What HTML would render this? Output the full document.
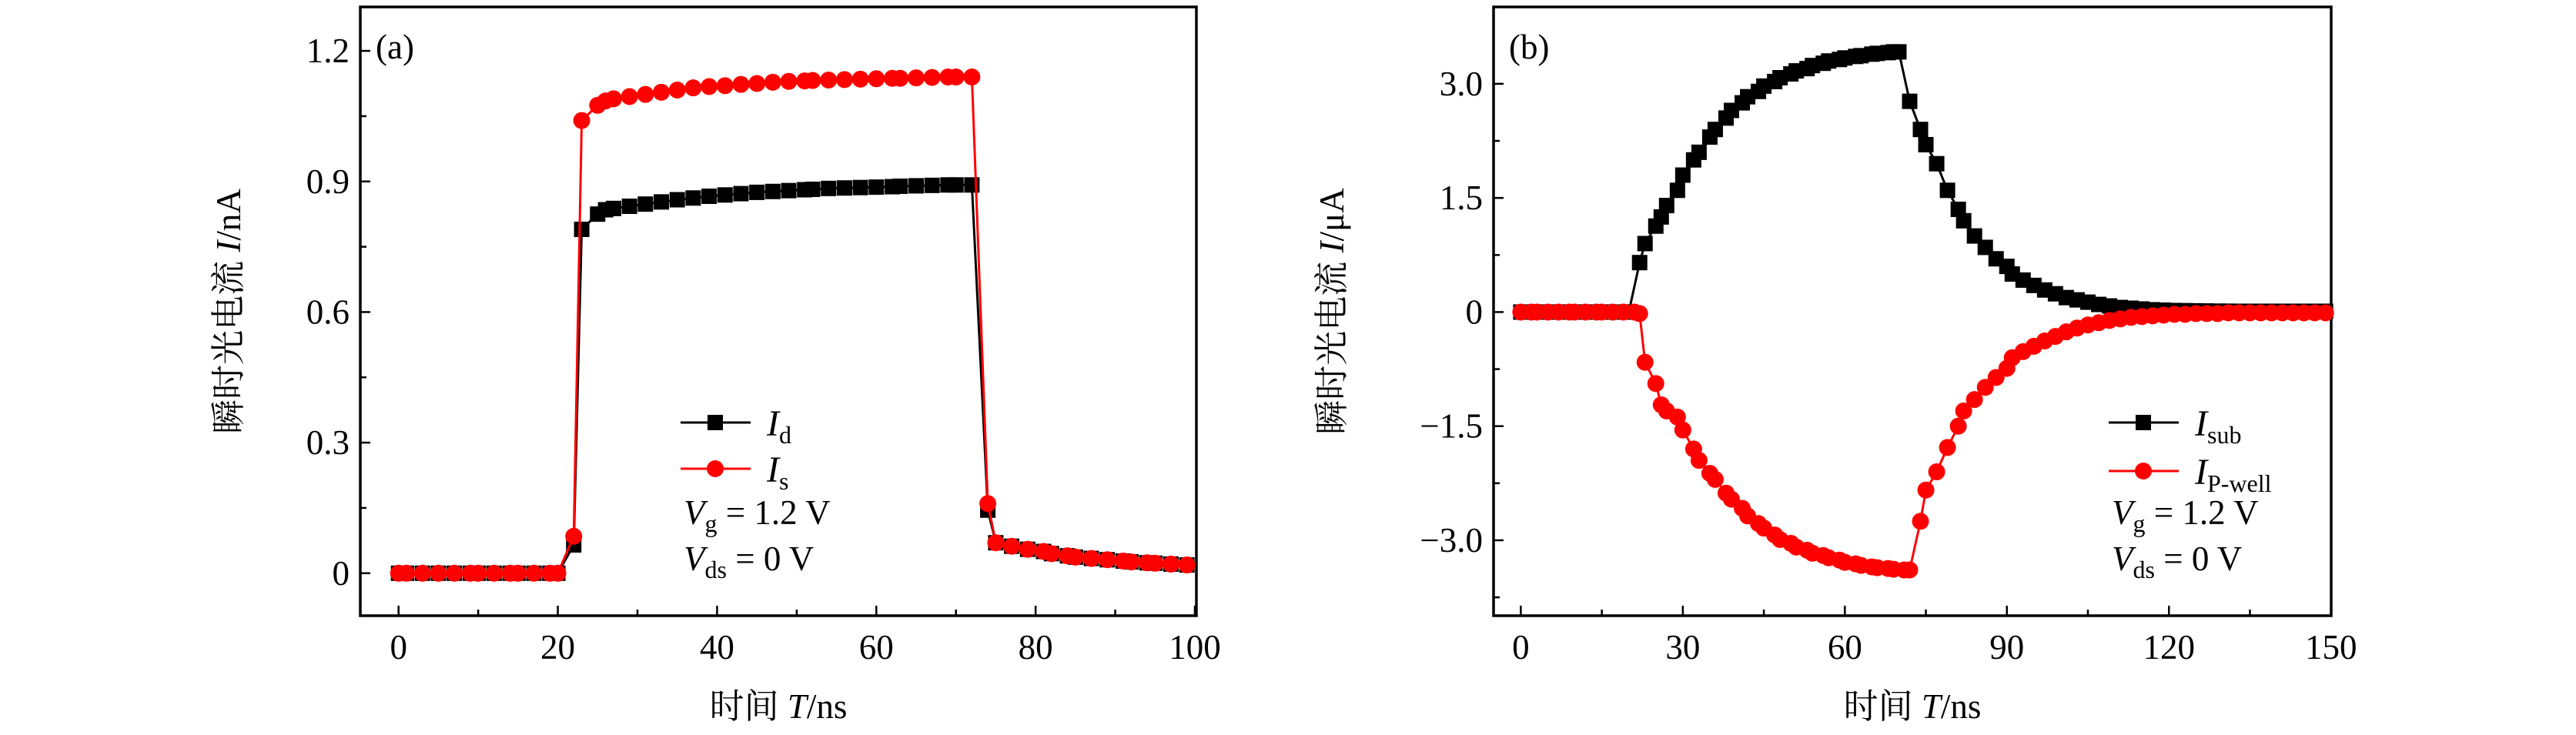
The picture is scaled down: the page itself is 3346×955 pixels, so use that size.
<!DOCTYPE html>
<html><head><meta charset="utf-8"><style>
html,body{margin:0;padding:0;background:#fff;}
svg{display:block;}
text{font-family:"Liberation Serif","Noto Serif CJK SC",serif;fill:#000;}
</style></head><body>
<svg id="chart" width="3346" height="955" viewBox="0 0 3346 955" xmlns="http://www.w3.org/2000/svg"></svg>
<script>
// ---- Panel (a) data ----
const aTimes = [0,1,3,5,7,9,10,12,14,15,17,19,20,22,23,25,26,27,29,31,33,35,37,39,41,43,45,47,49,51,52,54,56,58,60,62,63,65,67,69,70,72,74,75,77,79,81,82,84,85,87,89,91,92,94,95,97,99];
const aId = [0,0,0,0,0,0,0,0,0,0,0,0,0,0.065,0.79,0.825,0.835,0.838,0.843,0.848,0.853,0.858,0.862,0.866,0.869,0.872,0.875,0.877,0.879,0.881,0.882,0.884,0.885,0.886,0.887,0.888,0.889,0.89,0.891,0.892,0.892,0.892,0.145,0.07,0.062,0.055,0.05,0.045,0.04,0.037,0.034,0.031,0.028,0.026,0.024,0.023,0.021,0.019];
const aIs = [0,0,0,0,0,0,0,0,0,0,0,0,0,0.085,1.04,1.075,1.085,1.09,1.095,1.1,1.105,1.11,1.115,1.118,1.12,1.123,1.125,1.128,1.13,1.131,1.132,1.133,1.134,1.135,1.136,1.137,1.137,1.138,1.139,1.14,1.14,1.14,0.16,0.07,0.062,0.055,0.05,0.045,0.04,0.037,0.034,0.031,0.028,0.026,0.024,0.023,0.021,0.019];
const aXTicks = [0,20,40,60,80,100];
const aYTicks = [0,0.3,0.6,0.9,1.2];
const aYLabels = ["0","0.3","0.6","0.9","1.2"];
// ---- Panel (b) data ----
const bSubTimes = [0,2,3,5,7,9,10,12,14,15,17,19,20,22,23,25,26,27,29,30,32,33,35,36,38,39,41,42,44,45,47,48,50,51,53,54,56,57,59,60,62,63,65,66,68,69,70,72,74,75,77,79,81,82,84,86,88,90,91,93,95,97,99,101,103,105,107,109,111,113,115,117,119,121,123,125,127,129,131,133,135,137,139,141,143,145,147,149];
const bSub = [0,0,0,0,0,0,0,0,0,0,0,0,0,0.65,0.9,1.13,1.25,1.4,1.6,1.8,2.0,2.1,2.3,2.4,2.55,2.65,2.75,2.83,2.9,2.97,3.03,3.08,3.13,3.17,3.2,3.24,3.27,3.3,3.32,3.34,3.36,3.37,3.39,3.4,3.41,3.42,3.42,2.77,2.4,2.2,1.95,1.6,1.35,1.2,1.0,0.85,0.7,0.6,0.5,0.42,0.35,0.29,0.24,0.19,0.16,0.13,0.1,0.08,0.06,0.05,0.04,0.03,0.025,0.02,0.018,0.016,0.014,0.012,0.011,0.01,0.01,0.01,0.01,0.01,0.01,0.01,0.01,0.01];
const bPwTimes = [0,2,3,5,7,9,10,12,14,15,17,19,21,22,23,25,26,27,29,30,32,33,35,36,38,39,41,42,44,45,47,48,50,51,53,54,56,57,59,60,62,63,65,66,68,69,71,72,74,75,77,79,81,82,84,86,88,90,91,93,95,97,99,101,103,105,107,109,111,113,115,117,119,121,123,125,127,129,131,133,135,137,139,141,143,145,147,149];
const bPw = [0,0,0,0,0,0,0,0,0,0,0,0,0,-0.02,-0.66,-0.94,-1.22,-1.3,-1.38,-1.55,-1.8,-1.95,-2.12,-2.2,-2.38,-2.46,-2.58,-2.68,-2.78,-2.84,-2.93,-2.99,-3.04,-3.09,-3.13,-3.17,-3.2,-3.23,-3.26,-3.29,-3.31,-3.33,-3.35,-3.36,-3.37,-3.38,-3.39,-3.39,-2.75,-2.34,-2.1,-1.78,-1.5,-1.3,-1.15,-0.99,-0.86,-0.74,-0.6,-0.52,-0.45,-0.38,-0.32,-0.26,-0.21,-0.17,-0.14,-0.11,-0.09,-0.07,-0.06,-0.05,-0.04,-0.03,-0.03,-0.02,-0.02,-0.02,-0.01,-0.01,-0.01,-0.01,-0.01,-0.01,-0.01,-0.01,-0.01,-0.01];
const bXTicks = [0,30,60,90,120,150];
const bYTicks = [-3,-1.5,0,1.5,3];
const bYLabels = ["\u22123.0","\u22121.5","0","1.5","3.0"];

const svg = document.getElementById('chart');
const NS = 'http://www.w3.org/2000/svg';
function mk(tag, attrs, parent){const e=document.createElementNS(NS,tag);for(const k in attrs)e.setAttribute(k,attrs[k]);(parent||svg).appendChild(e);return e;}

function panel(cfg){
  const g = mk('g',{});
  
  
  const sx = v => cfg.x0px + (v - cfg.xmin)/(cfg.xmax-cfg.xmin)*(cfg.x1px-cfg.x0px);
  const sy = v => cfg.y0px - (v - cfg.ymin)/(cfg.ymax-cfg.ymin)*(cfg.y0px-cfg.y1px);
  const frame = mk('rect',{x:cfg.L,y:cfg.T,width:cfg.R-cfg.L,height:cfg.B-cfg.T,fill:'none',stroke:'#000','stroke-width':3.5},g);
  
  
  // x ticks
  for(let v=cfg.xmin; v<=cfg.xmax+1e-9; v+=cfg.xminor){
    const major = cfg.xTicks.some(t=>Math.abs(t-v)<1e-6);
    mk('line',{x1:sx(v),x2:sx(v),y1:cfg.B,y2:cfg.B-(major?13:8),stroke:'#000','stroke-width':2.5},g);
  }
  cfg.xTicks.forEach(t=>{
    const tl = mk('text',{x:sx(t),y:856,'font-size':45,'text-anchor':'middle'},g);
    tl.textContent = t;
    
    
  });
  // y ticks
  for(let v=cfg.yminorStart; v<=cfg.ymax+1e-9; v+=cfg.yminor){
    if(sy(v)<cfg.T-1||sy(v)>cfg.B+1) continue;
    const major = cfg.yTicks.some(t=>Math.abs(t-v)<1e-6);
    mk('line',{x1:cfg.L,x2:cfg.L+(major?13:8),y1:sy(v),y2:sy(v),stroke:'#000','stroke-width':2.5},g);
  }
  cfg.yTicks.forEach((t,i)=>{
    const tl = mk('text',{x:cfg.L-14,y:sy(t)+15,'font-size':45,'text-anchor':'end'},g);
    tl.textContent = cfg.yLabels[i];
    
    
  });
  // titles
  const xt = mk('text',{x:(cfg.L+cfg.R)/2,y:933,'font-size':45,'text-anchor':'middle'},g);
  xt.innerHTML = '时间 <tspan font-style="italic">T</tspan>/ns';
  
  
  const yt = mk('text',{x:0,y:0,'font-size':45,'text-anchor':'middle',transform:`translate(${cfg.ytx},${(cfg.T+cfg.B)/2}) rotate(-90)`},g);
  yt.innerHTML = '瞬时光电流 <tspan font-style="italic">I</tspan>/'+cfg.yunit;
  
  
  const pl = mk('text',{x:cfg.L+20,y:76,'font-size':45},g);
  pl.textContent = cfg.label;
  
  
  // series
  cfg.series.forEach(s=>{
    const sg = mk('g',{},g);
    
    
    const pts = s.t.map((t,i)=>sx(t)+','+sy(s.v[i])).join(' ');
    mk('polyline',{points:pts,fill:'none',stroke:s.color,'stroke-width':3},sg);
    s.t.forEach((t,i)=>{
      let m;
      if(s.marker==='sq') m = mk('rect',{x:sx(t)-10,y:sy(s.v[i])-10,width:20,height:20,fill:s.color},sg);
      else m = mk('circle',{cx:sx(t),cy:sy(s.v[i]),r:11,fill:s.color},sg);
      
      
    });
  });
  // legend
  const lg = mk('g',{},g);
  
  
  cfg.series.forEach((s,i)=>{
    const y = cfg.legY[i];
    mk('line',{x1:cfg.legX,x2:cfg.legX+91,y1:y,y2:y,stroke:s.color,'stroke-width':3},lg);
    if(s.marker==='sq') mk('rect',{x:cfg.legX+35,y:y-10,width:20,height:20,fill:s.color},lg);
    else mk('circle',{cx:cfg.legX+45,cy:y,r:11,fill:s.color},lg);
    const lt = mk('text',{x:cfg.legX+112,y:y+17,'font-size':48},lg);
    lt.innerHTML = '<tspan font-style="italic">I</tspan><tspan font-size="32" dy="10">'+s.sub+'</tspan>';
    
    
  });
  const c1 = mk('text',{x:cfg.legX+4,y:681,'font-size':45},lg);
  c1.innerHTML = '<tspan font-style="italic">V</tspan><tspan font-size="32" dy="10">g</tspan><tspan dy="-10"> = 1.2  V</tspan>';
  
  
  const c2 = mk('text',{x:cfg.legX+4,y:741,'font-size':45},lg);
  c2.innerHTML = '<tspan font-style="italic">V</tspan><tspan font-size="32" dy="10">ds</tspan><tspan dy="-10"> = 0  V</tspan>';
  
  
}

panel({name:'panel-a',label:'(a)',L:468,R:1554,T:9,B:800,xmin:0,xmax:100,x0px:517.7,x1px:1552,ymin:0,ymax:1.2,y0px:744.8,y1px:66.1,
  xTicks:aXTicks,xminor:10,yTicks:aYTicks,yLabels:aYLabels,yminor:0.15,yminorStart:-0.15,ytx:312,yunit:'nA',
  series:[{name:'series-id',t:aTimes,v:aId,color:'#000',marker:'sq',sub:'d'},{name:'series-is',t:aTimes,v:aIs,color:'#f00',marker:'ci',sub:'s'}],
  legX:884,legY:[549,609]});
panel({name:'panel-b',label:'(b)',L:1940,R:3028,T:9,B:800,xmin:0,xmax:150,x0px:1975.4,x1px:3027.7,ymin:-3,ymax:3,y0px:702,y1px:108.9,
  xTicks:bXTicks,xminor:15,yTicks:bYTicks,yLabels:bYLabels,yminor:0.75,yminorStart:-3.75,ytx:1745,yunit:'μA',
  series:[{name:'series-isub',t:bSubTimes,v:bSub,color:'#000',marker:'sq',sub:'sub'},{name:'series-ipwell',t:bPwTimes,v:bPw,color:'#f00',marker:'ci',sub:'P-well'}],
  legX:2739,legY:[549,612]});
</script>
</body></html>
